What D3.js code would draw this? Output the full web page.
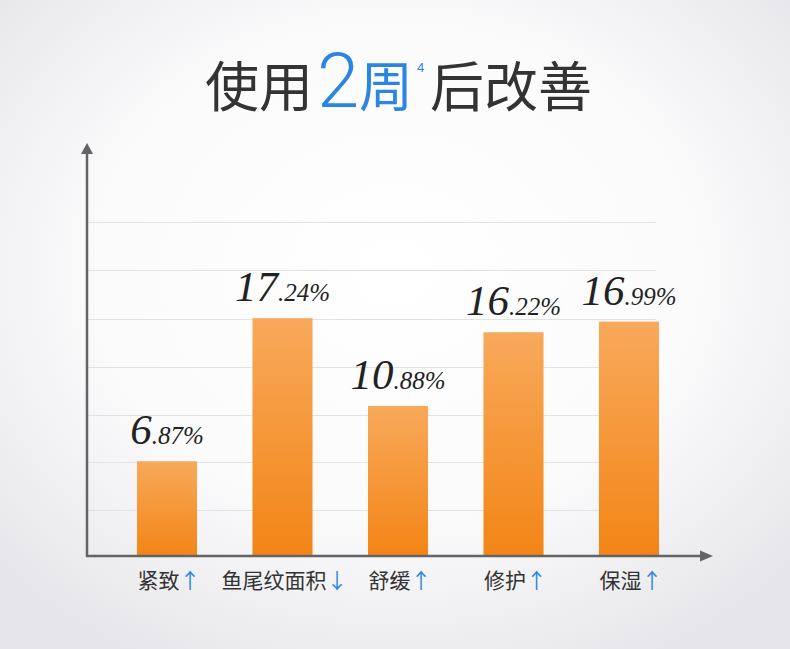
<!DOCTYPE html>
<html>
<head>
<meta charset="utf-8">
<script src="https://cdn.jsdelivr.net/npm/d3@7"></script>
<style>
  html, body { margin: 0; padding: 0; background: #fff; }
  svg { display: block; }
</style>
</head>
<body>
<div id="chart"></div>
<script>
// chart data
const categories = ["紧致", "鱼尾纹面积", "舒缓", "修护", "保湿"];
const values = [6.87, 17.24, 10.88, 16.22, 16.99];
const trends = ["↑", "↓", "↑", "↑", "↑"];
const gridValues = [3.3, 6.8, 10.2, 13.7, 17.2, 20.7, 24.2];

const width = 790,
    height = 649;

const svg = d3.select("#chart")
    .append("svg")
    .attr("width", width)
    .attr("height", height);

const defs = svg.append("defs");

// soft grey vignette behind everything
const bg = defs.append("radialGradient")
    .attr("id", "bg")
    .attr("cx", "50%").attr("cy", "42%").attr("r", "68%");
bg.append("stop").attr("offset", "0%").attr("stop-color", "#ffffff");
bg.append("stop").attr("offset", "55%").attr("stop-color", "#fbfbfc");
bg.append("stop").attr("offset", "100%").attr("stop-color", "#e6e6ea");

const barGrad = defs.append("linearGradient")
    .attr("id", "bar")
    .attr("x1", 0).attr("y1", 0).attr("x2", 0).attr("y2", 1);
barGrad.append("stop").attr("offset", "0%").attr("stop-color", "#f8a95b");
barGrad.append("stop").attr("offset", "100%").attr("stop-color", "#f38516");

svg.append("rect")
    .attr("width", width)
    .attr("height", height)
    .attr("fill", "url(#bg)");

// title
const blue = "#2a86e2";
const cjk = "'Noto Sans CJK SC', sans-serif";
const title = svg.append("g").attr("font-family", cjk);
title.append("text").attr("x", 205).attr("y", 107)
    .attr("font-size", 54).attr("fill", "#333").text("使用");
title.append("text").attr("x", 317).attr("y", 107)
    .attr("font-family", "Roboto, 'Noto Sans', sans-serif").attr("font-weight", 300)
    .attr("font-size", 76).attr("fill", blue).text("2");
title.append("text").attr("x", 359).attr("y", 107)
    .attr("font-size", 54).attr("fill", blue).text("周");
title.append("text").attr("x", 417).attr("y", 72)
    .attr("font-family", "'Liberation Sans', sans-serif")
    .attr("font-size", 13).attr("fill", blue).text("4");
title.append("text").attr("x", 430).attr("y", 107)
    .attr("font-size", 54).attr("fill", "#333").text("后改善");

// scales
const x = d3.scaleBand()
    .domain(categories)
    .range([109.25, 686.75])
    .paddingInner(0.48)
    .paddingOuter(0.24);

const y = d3.scaleLinear()
    .domain([0, 24.5])
    .range([556, 218]);

// grid lines
svg.append("g")
    .selectAll("line")
    .data(gridValues)
    .join("line")
    .attr("x1", 88)
    .attr("x2", 656)
    .attr("y1", d => Math.round(y(d)) + 0.5)
    .attr("y2", d => Math.round(y(d)) + 0.5)
    .attr("stroke", "#e2e2e6")
    .attr("stroke-width", 1);

// bars
svg.append("g")
    .selectAll("rect")
    .data(values)
    .join("rect")
    .attr("x", (d, i) => x(categories[i]))
    .attr("y", d => y(d))
    .attr("width", x.bandwidth())
    .attr("height", d => y(0) - y(d))
    .attr("fill", "url(#bar)");

// axes with arrow heads
const axisColor = "#646466";
svg.append("line")
    .attr("x1", 87).attr("x2", 87)
    .attr("y1", 557).attr("y2", 152)
    .attr("stroke", axisColor).attr("stroke-width", 2.5);
svg.append("path")
    .attr("d", "M81,154 L87,143 L93,154 Z")
    .attr("fill", axisColor);
svg.append("line")
    .attr("x1", 86).attr("x2", 702)
    .attr("y1", 556).attr("y2", 556)
    .attr("stroke", axisColor).attr("stroke-width", 2.5);
svg.append("path")
    .attr("d", "M700,550.5 L713,556 L700,561.5 Z")
    .attr("fill", axisColor);

// value labels: big integer part, small decimals
const labels = svg.append("g")
    .selectAll("text")
    .data(values)
    .join("text")
    .attr("x", (d, i) => x(categories[i]) + x.bandwidth() / 2)
    .attr("y", d => y(d) - 17)
    .attr("text-anchor", "middle")
    .attr("font-family", "'Liberation Serif', 'DejaVu Serif', serif")
    .attr("font-style", "italic")
    .attr("fill", "#222");
labels.append("tspan")
    .attr("font-size", 43)
    .text(d => d.toFixed(2).split(".")[0]);
labels.append("tspan")
    .attr("font-size", 25)
    .text(d => "." + d.toFixed(2).split(".")[1] + "%");

// category labels with trend arrows
const cats = svg.append("g")
    .selectAll("text")
    .data(categories)
    .join("text")
    .attr("x", d => x(d) + x.bandwidth() / 2 + 2)
    .attr("y", 588)
    .attr("text-anchor", "middle")
    .attr("font-family", cjk)
    .attr("font-size", 21)
    .attr("fill", "#333");
cats.append("tspan").text(d => d);
cats.append("tspan")
    .attr("font-family", cjk)
    .attr("fill", blue)
    .text((d, i) => trends[i]);
</script>
</body>
</html>
